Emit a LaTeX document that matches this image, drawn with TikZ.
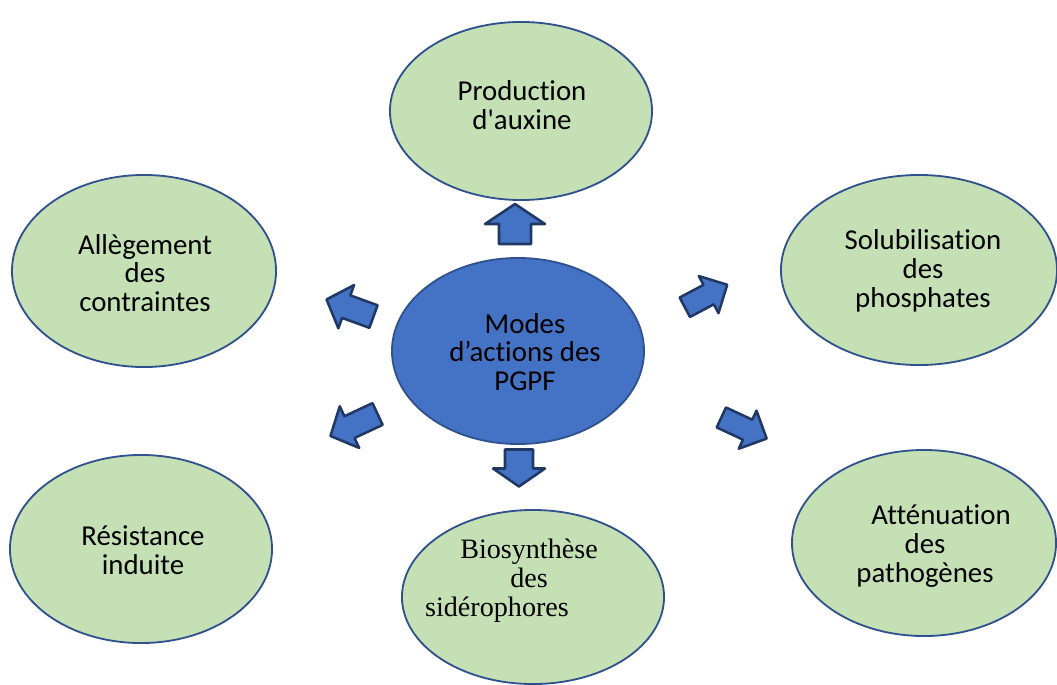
\documentclass[tikz,border=0pt]{standalone}
\usepackage{fontspec}
\setmainfont{Carlito}[Ligatures={TeXOff,NoCommon}]
\newfontfamily\serifb{Liberation Serif}
\usetikzlibrary{shapes.geometric,calc}
\definecolor{bgreen}{RGB}{197,224,180}
\definecolor{bblue}{RGB}{68,114,196}
\definecolor{bline}{RGB}{47,82,143}
\definecolor{adark}{RGB}{31,56,100}
\begin{document}
\begin{tikzpicture}[x=0.025cm,y=-0.025cm,
  bubble/.style={ellipse,draw=bline,line width=1.3pt,fill=bgreen,inner sep=0pt},
  core/.style={ellipse,draw=bline,line width=1.3pt,fill=bblue,inner sep=0pt},
  txt/.style={align=center,font=\fontsize{20.5}{20.5}\selectfont,inner sep=0pt,text=black},
  arrowstyle/.style={fill=bblue,draw=adark,line width=1.8pt,line join=round},
  pics/barrow/.style n args={4}{code={
    \draw[arrowstyle] (-#1/2,-#4)--(#1/2-#2,-#4)--(#1/2-#2,-#3)--(#1/2,0)
      --(#1/2-#2,#3)--(#1/2-#2,#4)--(-#1/2,#4)--cycle;}}]
\useasboundingbox (0,0) rectangle (1057,684);
\clip (0,0) rectangle (1057,684);

\node[bubble,minimum width=6.55cm,minimum height=4.45cm] (aux) at (521,111) {};
\node[bubble,minimum width=6.6cm,minimum height=4.8cm] (all) at (144,271) {};
\node[bubble,minimum width=6.9cm,minimum height=4.75cm] (sol) at (919,270) {};
\node[core,minimum width=6.3cm,minimum height=4.65cm] (mid) at (518,351) {};
\node[bubble,minimum width=6.55cm,minimum height=4.7cm] (res) at (141,549) {};
\node[bubble,minimum width=6.55cm,minimum height=4.35cm] (bio) at (533,597) {};
\node[bubble,minimum width=6.6cm,minimum height=4.65cm] (att) at (924,543) {};

\node[txt] (auxt) at (522,105) {Production\\d'auxine};
\node[txt] (allt) at (145,273) {Allègement\\des\\contraintes};
\node[txt] (solt) at (923,271) {Solubilisation\\des\\phosphates};
\node[txt] (midt) at (525,352) {Modes\\d’actions des\\PGPF};
\node[txt] (rest) at (143,550) {Résistance\\induite};
\node[txt,font=\serifb\fontsize{20}{20.5}\selectfont] (biot) at (529,581) {Biosynthèse\\des\\sidérophores\hspace*{1.6cm}};
\node[txt] (attt) at (925,546) {\hspace*{0.8cm}Atténuation\\des\\pathogènes};

\pic[rotate=90] (aup) at (515,224) {barrow={40}{20}{30}{16}};
\pic[rotate=-90] (adown) at (519,468) {barrow={37}{18}{26}{14}};
\pic[rotate=160] (aul) at (350,308) {barrow={50}{21}{23}{12}};
\pic[rotate=28] (aur) at (706,296) {barrow={48}{21}{21}{11}};
\pic[rotate=-155] (adl) at (354,425) {barrow={52}{21}{23}{12}};
\pic[rotate=-25] (adr) at (744,428) {barrow={50}{21}{21}{11}};
\end{tikzpicture}
\end{document}
